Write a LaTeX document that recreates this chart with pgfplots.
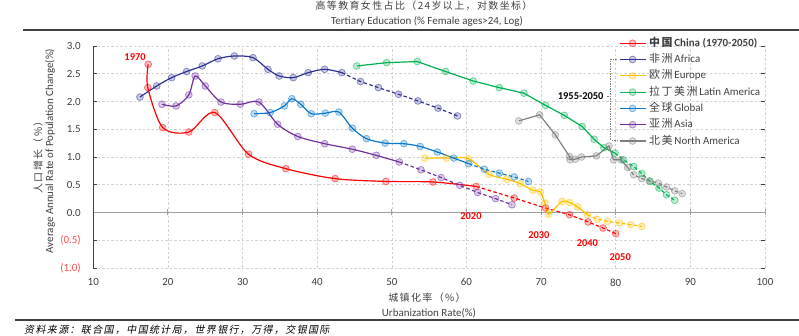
\documentclass[border=0pt]{standalone}
\usepackage{fontspec}
\setmainfont{Carlito}
\newfontfamily\cjk[LetterSpace=14]{Noto Sans CJK SC}
\newfontfamily\cjkit[LetterSpace=14,FakeSlant=0.2]{Noto Sans CJK SC}
\usepackage{pgfplots}
\pgfplotsset{compat=1.18}
\definecolor{cChina}{HTML}{FF0000}
\definecolor{cAfrica}{HTML}{2E3192}
\definecolor{cEurope}{HTML}{FFC000}
\definecolor{cLatin}{HTML}{00B050}
\definecolor{cGlobal}{HTML}{0A78CC}
\definecolor{cAsia}{HTML}{7030A0}
\definecolor{cNA}{HTML}{808080}
\definecolor{txt}{HTML}{404040}
\definecolor{cNeg}{HTML}{FF4B4B}
\pgfplotsset{
  ser/.style={color=#1, line width=1.2bp, mark=*, mark size=3.4bp,
    mark options={solid, fill=#1, fill opacity=0.25, draw opacity=0.5, line width=0.8bp}},
  dsh/.style={dash pattern=on 3.5bp off 2.5bp, mark phase=2},
}
\begin{document}
\begin{tikzpicture}
\path[use as bounding box] (0,0) rectangle (799bp,336bp);
\begin{axis}[
  at={(93.3bp,68bp)}, anchor=south west, scale only axis,
  width=671.7bp, height=222bp,
  xmin=10, xmax=100, ymin=-1, ymax=3,
  xtick={10,20,30,40,50,60,70,80,90,100},
  xticklabels={10,20,30,40,50,60,70,80,90,100},
  ytick={-1,-0.5,0,0.5,1,1.5,2,2.5,3},
  yticklabels={\textcolor{cNeg}{(1.0)},\textcolor{cNeg}{(0.5)},0.0,0.5,1.0,1.5,2.0,2.5,3.0},
  ticklabel style={font=\fontsize{11}{12}\selectfont, text=txt},
  yticklabel style={xshift=-9bp},
  xticklabel style={yshift=-7bp},
  axis line style={draw=none},
  xtick style={draw=none},
  ytick style={draw=txt, line width=0.6bp},
  tick align=inside, major tick length=4bp,
  grid=major, grid style={gray!35, dash pattern=on 2.5bp off 2bp, line width=0.6bp},
  clip=false,
  legend cell align=left,
  legend image code/.code={\draw[mark repeat=2, mark phase=2, #1] plot coordinates {(0bp,0bp) (13bp,0bp) (26bp,0bp)};},
  legend style={at={(axis description cs:0.7826,1.035)}, anchor=north west, draw=none, fill=none,
    inner sep=0pt, outer sep=0pt, row sep=6.3bp, font=\fontsize{11}{12}\selectfont, text=txt,
    nodes={inner sep=0pt, text height=8bp, text depth=2bp},
    /tikz/every odd column/.append style={column sep=3bp}},
]
% axis lines
\draw[gray!75, line width=1.6bp] (axis cs:10,0) -- (axis cs:100,0);
\pgfplotsinvokeforeach{20,30,40,50,60,70,80,90,100}{
  \draw[gray!75, line width=1bp] ([yshift=-3bp]axis cs:#1,0) -- ([yshift=3bp]axis cs:#1,0);
}
\draw[txt, line width=1bp] (axis cs:10,-1) -- (axis cs:10,3);

% China
\addplot[ser=cChina, smooth] coordinates {(17.35,2.67) (17.3,2.25) (19.3,1.53) (22.8,1.45) (26.3,1.80) (30.8,1.05) (35.8,0.79) (42.4,0.61) (49.2,0.56) (55.5,0.55) (61.3,0.47)};
\addlegendentry{{\cjk\bfseries 中国}\,\textbf{China (1970-2050)}}
\addplot[ser=cChina, dsh, forget plot] coordinates {(61.3,0.47) (66.4,0.26) (70.6,0.08) (73.8,-0.04) (76.3,-0.17) (78.3,-0.28) (80.0,-0.38)};
% Africa
\addplot[ser=cAfrica, smooth] coordinates {(16.25,2.08) (18.5,2.28) (20.5,2.43) (22.5,2.54) (24.6,2.64) (26.7,2.77) (28.9,2.82) (31.4,2.79) (33.4,2.58) (34.9,2.46) (36.8,2.43) (38.8,2.52) (41.0,2.58) (43.3,2.52)};
\addlegendentry{{\cjk 非洲}\,Africa}
\addplot[ser=cAfrica, dsh, forget plot] coordinates {(43.3,2.52) (45.8,2.36) (48.2,2.25) (50.9,2.13) (53.5,2.01) (56.2,1.88) (58.8,1.74)};
% Europe
\addplot[ser=cEurope, smooth] coordinates {(54.4,0.98) (57.3,0.98) (60.25,0.97) (63.0,0.69) (65.4,0.60) (67.2,0.52) (68.9,0.40) (69.9,0.37) (70.5,0.17) (71.0,-0.03) (72.8,0.20) (73.8,0.18) (74.9,0.10) (76.2,-0.04)};
\addlegendentry{{\cjk 欧洲}\,Europe}
\addplot[ser=cEurope, dsh, forget plot] coordinates {(76.2,-0.04) (77.5,-0.12) (78.9,-0.16) (80.5,-0.19) (82.0,-0.22) (83.5,-0.25)};
% Latin America
\addplot[ser=cLatin] coordinates {(45.3,2.64) (49.3,2.70) (53.4,2.72) (57.2,2.54) (60.9,2.37) (64.4,2.25) (67.7,2.15) (70.6,1.93) (73.1,1.75) (75.5,1.55) (77.1,1.32) (78.4,1.17) (79.9,1.07)};
\addlegendentry{{\cjk 拉丁美洲}\,Latin America}
\addplot[ser=cLatin, dsh, forget plot] coordinates {(79.9,1.07) (81.0,0.95) (82.4,0.83) (83.5,0.70) (84.6,0.56) (85.8,0.44) (86.8,0.32) (87.9,0.22)};
% Global
\addplot[ser=cGlobal, smooth] coordinates {(31.55,1.78) (33.7,1.80) (35.6,1.92) (36.6,2.05) (37.8,1.95) (39.2,1.78) (41.1,1.79) (42.9,1.81) (44.7,1.52) (46.6,1.33) (49.1,1.25) (51.6,1.24) (53.8,1.19) (56.1,1.09) (58.3,0.98) (60.3,0.88)};
\addlegendentry{{\cjk 全球}\,Global}
\addplot[ser=cGlobal, dsh, forget plot] coordinates {(60.3,0.88) (62.4,0.78) (64.4,0.71) (66.4,0.64) (68.3,0.56)};
% Asia
\addplot[ser=cAsia, smooth] coordinates {(19.2,1.95) (21.1,1.92) (22.8,2.12) (23.65,2.46) (25.0,2.28) (27.1,1.99) (29.7,1.95) (32.2,1.99) (34.7,1.59) (37.4,1.37) (41.0,1.24) (44.7,1.14) (47.9,1.03) (51.0,0.91)};
\addlegendentry{{\cjk 亚洲}\,Asia}
\addplot[ser=cAsia, dsh, forget plot] coordinates {(51.0,0.91) (53.9,0.77) (56.6,0.63) (59.1,0.49) (61.5,0.36) (63.9,0.25) (66.1,0.14)};
% North America
\addplot[ser=cNA] coordinates {(67.0,1.65) (69.8,1.76) (71.9,1.40) (73.8,1.01) (73.9,0.95) (74.6,0.96) (75.4,1.00) (77.4,1.02) (79.1,1.20) (79.7,0.95) (80.7,0.95) (81.6,0.81)};
\addlegendentry{{\cjk 北美}\,North America}
\addplot[ser=cNA, dsh, forget plot] coordinates {(81.6,0.81) (82.4,0.68) (83.5,0.61) (84.5,0.57) (85.7,0.53) (86.8,0.46) (87.9,0.39) (88.9,0.34)};

% annotations
\node[font=\bfseries\fontsize{10.5}{12}\selectfont, text=red] at (axis cs:15.6,2.80) {1970};
\node[font=\bfseries\fontsize{10.5}{12}\selectfont, text=red] at (axis cs:60.6,-0.06) {2020};
\node[font=\bfseries\fontsize{10.5}{12}\selectfont, text=red] at (axis cs:69.7,-0.40) {2030};
\node[font=\bfseries\fontsize{10.5}{12}\selectfont, text=red] at (axis cs:76.2,-0.56) {2040};
\node[font=\bfseries\fontsize{10.5}{12}\selectfont, text=red] at (axis cs:80.6,-0.80) {2050};
\node[font=\bfseries\fontsize{10.5}{12}\selectfont, text=black] at (axis cs:75.3,2.09) {1955-2050};
\end{axis}
% bracket
\draw[cNA, line width=0.6bp, dash pattern=on 1.5bp off 1bp] (616.7bp,276.7bp) -- (610.7bp,276.7bp) -- (610.7bp,196bp) -- (616.7bp,196bp);
\draw[cNA, line width=0.6bp, dash pattern=on 1.5bp off 1bp] (607bp,239.3bp) -- (610.7bp,239.3bp);
% top titles
\node[font=\cjk\fontsize{10}{12}\selectfont, text=txt] at (424bp,330bp) {高等教育女性占比（24岁以上，对数坐标）};
\node[font=\fontsize{11}{12}\selectfont, text=txt] at (427bp,315bp) {Tertiary Education (\% Female ages>24, Log)};
\draw[txt, line width=2bp] (23bp,306bp) -- (799bp,306bp);
% y labels
\node[rotate=90, font=\cjk\fontsize{10}{12}\selectfont, text=txt] at (38bp,181bp) {人口增长（\%）};
\node[rotate=90, font=\fontsize{11}{12}\selectfont, text=txt] at (50bp,185bp) {Average Annual Rate of Population Change(\%)};
% x labels
\node[font=\cjk\fontsize{10}{12}\selectfont, text=txt] at (427bp,38bp) {城镇化率（\%）};
\node[font=\fontsize{11}{12}\selectfont, text=txt] at (429bp,23bp) {Urbanization Rate(\%)};
\draw[txt, line width=2bp] (15bp,16bp) -- (799bp,16bp);
\node[anchor=west, font=\cjkit\fontsize{10}{12}\selectfont, text=black, inner sep=0pt] at (24bp,6bp) {资料来源：联合国，中国统计局，世界银行，万得，交银国际};
\end{tikzpicture}
\end{document}
